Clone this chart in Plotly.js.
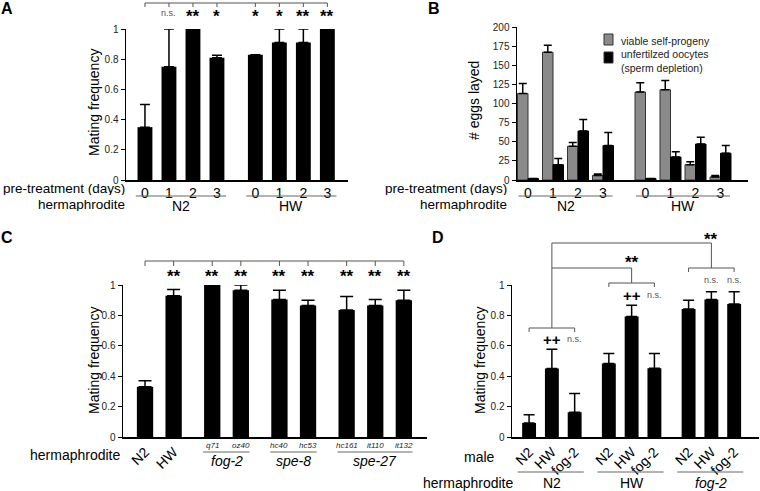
<!DOCTYPE html>
<html>
<head>
<meta charset="utf-8">
<script src="https://cdn.plot.ly/plotly-3.0.1.min.js"></script>
<style>
  html, body { margin: 0; padding: 0; background: #fff; }
  #chart { width: 760px; height: 491px; }
</style>
</head>
<body>
<div id="chart"></div>
<script>
// ---- data ----
// A: mating frequency after pre-treatment
const daysA = ['0', '1', '2', '3', '0', '1', '2', '3'];
const hermA = ['N2', 'HW'];
const mateA = [0.35, 0.75, 1.0, 0.81, 0.83, 0.91, 0.91, 1.0];
const mateErrA = [0.15, 0.25, 0, 0.016, 0, 0.09, 0.09, 0];
const sigA = ['', 'n.s.', '**', '*', '*', '*', '**', '**'];

// B: eggs layed
const daysB = ['0', '1', '2', '3', '0', '1', '2', '3'];
const hermB = ['N2', 'HW'];
const seriesB = ['viable self-progeny', 'unfertilzed oocytes<br>(sperm depletion)'];
const viableB = [113, 167, 44, 6, 115, 118, 20, 4];
const viableErrB = [13, 9, 5, 2, 12, 12, 4, 2];
const unfertB = [2, 20, 64, 45, 2, 30, 47, 35];
const unfertErrB = [0, 8, 15, 17, 0, 7, 9, 10];

// C: mating frequency per hermaphrodite strain
const strainC = ['N2', 'HW', 'q71', 'oz40', 'hc40', 'hc53', 'hc161', 'it110', 'it132'];
const geneC = ['fog-2', 'spe-8', 'spe-27'];
const mateC = [0.33, 0.93, 1.0, 0.965, 0.905, 0.865, 0.835, 0.865, 0.90];
const mateErrC = [0.04, 0.04, 0, 0.035, 0.06, 0.035, 0.09, 0.04, 0.065];
const sigC = ['', '**', '**', '**', '**', '**', '**', '**', '**'];

// D: male x hermaphrodite
const maleD = ['N2', 'HW', 'fog-2', 'N2', 'HW', 'fog-2', 'N2', 'HW', 'fog-2'];
const hermD = ['N2', 'HW', 'fog-2'];
const mateD = [0.092, 0.45, 0.163, 0.484, 0.793, 0.453, 0.842, 0.905, 0.875];
const mateErrD = [0.055, 0.128, 0.123, 0.066, 0.073, 0.097, 0.058, 0.051, 0.081];
const sigD = ['', '++', 'n.s.', '', '++', 'n.s.', '', 'n.s.', 'n.s.'];

// ---- helpers ----
const W = 760, H = 491;
const px = v => v / W;
const py = v => 1 - v / H;
const FONT = 'Liberation Sans, Arial, sans-serif';
const GRAY = '#8a8a8a';

function groupPositions(sizes, gap) {
  const pos = [];
  let start = 0;
  sizes.forEach(n => {
    for (let i = 0; i < n; i++) pos.push(start + i);
    start += n + gap;
  });
  return pos;
}

const posA = groupPositions([4, 4], 0.6);
const posB = groupPositions([4, 4], 0.7);
const posC = groupPositions([2, 2, 2, 3], 0.35);
const posD = groupPositions([3, 3, 3], 0.5);
const mean = a => a.reduce((s, v) => s + v, 0) / a.length;

function errBar(arr, w) {
  return {
    type: 'data', array: arr, arrayminus: arr.map(() => 0), symmetric: false,
    color: '#000', thickness: 1.5, width: w
  };
}

// ---- traces ----
const traces = [
  {
    type: 'bar', x: posA, y: mateA, xaxis: 'x', yaxis: 'y', width: 0.62,
    marker: { color: '#000' }, error_y: errBar(mateErrA, 5), cliponaxis: false
  },
  {
    type: 'bar', name: seriesB[0], x: posB, y: viableB,
    xaxis: 'x2', yaxis: 'y2', width: 0.42, offset: -0.42,
    marker: { color: GRAY, line: { color: '#333', width: 1 } },
    error_y: errBar(viableErrB, 4), cliponaxis: false
  },
  {
    type: 'bar', name: seriesB[1], x: posB, y: unfertB,
    xaxis: 'x2', yaxis: 'y2', width: 0.42, offset: 0,
    marker: { color: '#000', line: { color: '#000', width: 1 } },
    error_y: errBar(unfertErrB, 4), cliponaxis: false
  },
  {
    type: 'bar', x: posC, y: mateC, xaxis: 'x3', yaxis: 'y3', width: 0.57,
    marker: { color: '#000' }, error_y: errBar(mateErrC, 6.5), cliponaxis: false
  },
  {
    type: 'bar', x: posD, y: mateD, xaxis: 'x4', yaxis: 'y4', width: 0.61,
    marker: { color: '#000' }, error_y: errBar(mateErrD, 5.5), cliponaxis: false
  }
];

// ---- axes ----
function xAxis(dom, range, vals, text, anchor, extra) {
  return Object.assign({
    domain: dom, range: range, anchor: anchor, tickvals: vals, ticktext: text,
    showline: true, linecolor: '#000', linewidth: 1.5, ticks: '',
    showgrid: false, zeroline: false, fixedrange: true,
    tickfont: { size: 14, color: '#000' }
  }, extra || {});
}
function yAxis(dom, range, dtick, anchor) {
  return {
    domain: dom, range: range, dtick: dtick, anchor: anchor,
    showline: true, linecolor: '#000', linewidth: 1.5,
    ticks: 'outside', ticklen: 4, tickwidth: 1, tickcolor: '#000',
    showgrid: false, zeroline: false, fixedrange: true,
    tickfont: { size: 10, color: '#222' }
  };
}

// ---- annotations & shapes ----
const ann = [];
const shp = [];
const txt = (x, y, text, o) => ann.push(Object.assign({
  x: x, y: y, text: text, showarrow: false, xref: 'paper', yref: 'paper',
  xanchor: 'center', yanchor: 'middle', font: { size: 14, color: '#000', family: FONT }
}, o || {}));
const line = (xref, x0, x1, y0, y1, color) => shp.push({
  type: 'line', xref: xref, yref: 'paper', x0: x0, x1: x1, y0: py(y0), y1: py(y1),
  line: { color: color || '#555', width: 1 }
});
const star = (xref, x, y, s) => {
  if (!s) return;
  if (s === 'n.s.') txt(x, py(y), s, { xref: xref, font: { size: 9, color: '#555', family: FONT } });
  else if (s === '++') txt(x, py(y), '<b>' + s + '</b>', { xref: xref, font: { size: 15, color: '#000', family: FONT } });
  else txt(x, py(y + 4), '<b>' + s + '</b>', { xref: xref, font: { size: 17, color: '#000', family: FONT } });
};

// panel letters
[['A', 7, 9], ['B', 434, 9], ['C', 7, 238], ['D', 438, 238]].forEach(l =>
  txt(px(l[1]), py(l[2]), '<b>' + l[0] + '</b>', { font: { size: 16, color: '#000', family: FONT } }));

// y titles
txt(px(94), py(103), 'Mating frequency', { textangle: -90 });
txt(px(474), py(101), '# eggs layed', { textangle: -90 });
txt(px(94), py(361), 'Mating frequency', { textangle: -90 });
txt(px(480), py(361), 'Mating frequency', { textangle: -90 });

// B legend (drawn by hand to match the compact key)
[[GRAY, 34, 45, 41], ['#000', 52, 63, 61]].forEach((k, i) => {
  shp.push({
    type: 'rect', xref: 'paper', yref: 'paper', x0: px(604), x1: px(613),
    y0: py(k[2]), y1: py(k[1]), fillcolor: k[0], line: { color: '#333', width: 1 }
  });
  txt(px(619), py(k[3]), seriesB[i], {
    xanchor: 'left', align: 'left', font: { size: 10.5, color: '#222', family: FONT }
  });
});

// A / B bottom labels
const rowFont = { size: 13.5, color: '#000', family: FONT };
[[127, 'x', posA, hermA], [509, 'x2', posB, hermB]].forEach(p => {
  txt(px(p[0]), py(188), 'pre-treatment (days)', { xanchor: 'right', height: 14, font: rowFont });
  txt(px(p[0]), py(204), 'hermaphrodite', { xanchor: 'right', height: 14, font: rowFont });
  for (let g = 0; g < 2; g++) {
    const grp = p[2].slice(g * 4, g * 4 + 4);
    line(p[1], grp[0] - 0.38, grp[3] + 0.38, 196, 196, '#666');
    txt(mean(grp), py(206), p[3][g], { xref: p[1], height: 14 });
  }
});

// A significance bracket
line('x', posA[0], posA[posA.length - 1], 3, 3);
posA.forEach((x, i) => { line('x', x, x, 3, 7); star('x', x, 13, sigA[i]); });

// C bottom labels
txt(px(122), py(455), 'hermaphrodite', { xanchor: 'right' });
strainC.forEach((s, i) => {
  if (i >= 2) txt(posC[i], py(445), '<i>' + s + '</i>', { xref: 'x3', font: { size: 8, color: '#222', family: FONT } });
});
[[2, 3], [4, 5], [6, 8]].forEach((r, g) => {
  line('x3', posC[r[0]] - 0.32, posC[r[1]] + 0.3, 452, 452, '#666');
  txt(mean(posC.slice(r[0], r[1] + 1)), py(461), '<i>' + geneC[g] + '</i>', { xref: 'x3' });
});
// C significance bracket
line('x3', posC[0], posC[posC.length - 1], 261, 261);
posC.forEach((x, i) => { line('x3', x, x, 261, 266); star('x3', x, 272, sigC[i]); });

// D bottom labels
txt(px(497), py(457), 'male', { xanchor: 'right' });
txt(px(515), py(483), 'hermaphrodite', { xanchor: 'right' });
hermD.forEach((h, g) => {
  const grp = posD.slice(g * 3, g * 3 + 3);
  line('x4', grp[0] - 0.5, grp[2] + 0.4, 472, 472, '#666');
  txt(mean(grp), py(483), g === 2 ? '<i>' + h + '</i>' : h, { xref: 'x4' });
});
// D brackets
const sigYD = [339, 295, 280];
const brYD = [328, 283, 268];
[0, 1, 2].forEach(g => {
  const a = posD[g * 3], b = posD[g * 3 + 2];
  line('x4', a, b, brYD[g], brYD[g]);
  line('x4', a, a, brYD[g], brYD[g] + 4);
  line('x4', b, b, brYD[g], brYD[g] + 4);
  for (let i = g * 3; i < g * 3 + 3; i++) star('x4', posD[i], sigYD[g], sigD[i]);
});
line('x4', posD[1], posD[1], 328, 243);
line('x4', posD[4], posD[4], 283, 268);
line('x4', posD[7], posD[7], 268, 243);
line('x4', posD[1], posD[4], 268, 268);
line('x4', posD[1], posD[7], 243, 243);
star('x4', posD[4], 258, '**');
star('x4', posD[7], 235, '**');

// ---- layout ----
const layout = {
  width: W, height: H,
  margin: { l: 0, r: 0, t: 0, b: 0 },
  paper_bgcolor: '#fff', plot_bgcolor: 'rgba(0,0,0,0)',
  font: { family: FONT, color: '#000' },
  barmode: 'group',
  showlegend: false,
  xaxis: xAxis([px(126), px(348)], [-0.79, 8.46], posA, daysA, 'y'),
  yaxis: yAxis([py(180), py(29)], [0, 1], 0.2, 'x'),
  xaxis2: xAxis([px(517), px(748)], [-0.44, 8.8], posB, daysB, 'y2'),
  yaxis2: yAxis([py(180), py(27)], [0, 200], 25, 'x2'),
  xaxis3: xAxis([px(123), px(427)], [-0.77, 9.86], posC, strainC.map((s, i) => i < 2 ? s : ''), 'y3', { tickangle: -45 }),
  yaxis3: yAxis([py(437), py(285)], [0, 1], 0.2, 'x3'),
  xaxis4: xAxis([px(512), px(759)], [-0.75, 10.09], posD, maleD, 'y4', { tickangle: -45 }),
  yaxis4: yAxis([py(437), py(285)], [0, 1], 0.2, 'x4'),
  annotations: ann,
  shapes: shp
};

Plotly.newPlot('chart', traces, layout, { staticPlot: true });
</script>
</body>
</html>
